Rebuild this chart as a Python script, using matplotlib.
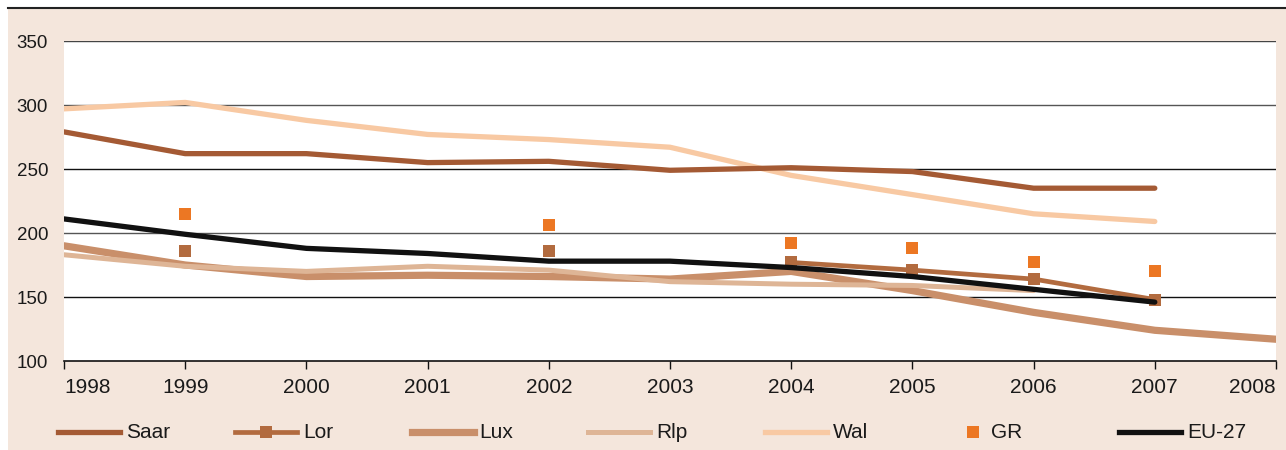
import numpy as np
import matplotlib
matplotlib.use("Agg")
from matplotlib import pyplot as plt
from matplotlib.lines import Line2D
from matplotlib.patches import Rectangle

plt.rcParams['font.family'] = ['Liberation Sans', 'DejaVu Sans']

years = [1998, 1999, 2000, 2001, 2002, 2003, 2004, 2005, 2006, 2007, 2008]
nan = np.nan

saar = [279, 262, 262, 255, 256, 249, 251, 248, 235, 235, nan]
lor = [nan, 186, nan, nan, 186, nan, 177, 171, 164, 148, nan]
lux = [190, 175, 166, 167, 166, 164, 170, 155, 138, 124, 117]
rlp = [183, 174, 170, 174, 171, 162, 160, 159, 155, nan, nan]
wal = [297, 302, 288, 277, 273, 267, 245, 230, 215, 209, nan]
gr = [nan, 215, nan, nan, 206, nan, 192, 188, 177, 170, nan]
eu27 = [211, 199, 188, 184, 178, 178, 173, 166, 156, 146, nan]

c_saar = '#a45a34'
c_lor = '#b26b3f'
c_lux = '#c98f6a'
c_rlp = '#deb596'
c_wal = '#f8c9a3'
c_gr = '#ec7723'
c_eu = '#111111'
beige = '#f4e6dc'
txt = '#1a1a1a'
fs_y = 13.5
fs_x = 15
fs_leg = 15

W, H = 1286, 450
fig = plt.figure(figsize=(W / 100, H / 100), dpi=100)
fig.patch.set_facecolor('white')

# beige panel and top rule
fig.add_artist(Rectangle((8 / W, 0), 1 - 8 / W, (H - 9) / H,
                         transform=fig.transFigure, facecolor=beige,
                         edgecolor='none', zorder=0))
fig.add_artist(Line2D([8 / W, 1], [(H - 8) / H, (H - 8) / H],
                      transform=fig.transFigure, color='#222222', lw=1.5))

ax = fig.add_axes([64 / W, (H - 361) / H, (1276 - 64) / W, (361 - 41) / H])
ax.set_facecolor('white')
ax.set_xlim(1998, 2008)
ax.set_ylim(100, 350)

for v, c in zip([150, 200, 250, 300, 350],
                ['#111111', '#555555', '#111111', '#555555', '#444444']):
    ax.axhline(v, color=c, lw=1, zorder=1)

kw = dict(solid_capstyle='round', solid_joinstyle='round')
ax.plot(years, wal, color=c_wal, lw=3.8, zorder=2, **kw)
ax.plot(years, saar, color=c_saar, lw=3.8, zorder=3, **kw)
ax.plot(years, lux, color=c_lux, lw=5.2, zorder=3, **kw)
ax.plot(years, rlp, color=c_rlp, lw=3.6, zorder=4, **kw)
ax.plot(years, lor, color=c_lor, lw=3.4, marker='s', markersize=8.5,
        markeredgewidth=0, zorder=5, **kw)
ax.plot(years, eu27, color=c_eu, lw=3.8, zorder=6, **kw)
ax.plot(years, gr, color=c_gr, lw=0, marker='s', markersize=8.5,
        markeredgewidth=0, zorder=7)

for s in ['top', 'right', 'left']:
    ax.spines[s].set_visible(False)
ax.spines['bottom'].set_color('#111111')
ax.spines['bottom'].set_linewidth(1.2)

ax.set_yticks([100, 150, 200, 250, 300, 350])
ax.tick_params(axis='y', length=0, pad=11.5, labelsize=fs_y, labelcolor=txt)
ax.set_xticks(years)
ax.set_xticklabels([str(y) for y in years])
ax.tick_params(axis='x', length=6, width=1, direction='out', pad=6,
               labelsize=fs_x, labelcolor=txt, color='#111111')
labels = ax.get_xticklabels()
labels[0].set_horizontalalignment('left')
labels[-1].set_horizontalalignment('right')

# legend row
names = ['Saar', 'Lor', 'Lux', 'Rlp', 'Wal', 'GR', 'EU-27']
styles = [
    dict(color=c_saar, lw=3.8),
    dict(color=c_lor, lw=3.4, marker='s', markersize=8.5, markeredgewidth=0),
    dict(color=c_lux, lw=5.2),
    dict(color=c_rlp, lw=3.6),
    dict(color=c_wal, lw=3.8),
    dict(color=c_gr, lw=0, marker='s', markersize=8.5, markeredgewidth=0),
    dict(color=c_eu, lw=3.8),
]
y_leg = (H - 432) / H
for i, (name, st) in enumerate(zip(names, styles)):
    x0 = 58 + i * 176.8
    if name == 'GR':
        fig.add_artist(Line2D([(x0 + 31) / W], [y_leg], transform=fig.transFigure, **st))
        fig.text((x0 + 49) / W, y_leg, name, fontsize=fs_leg, va='center',
                 ha='left', color=txt)
    else:
        fig.add_artist(Line2D([x0 / W, (x0 + 62) / W], [y_leg, y_leg],
                              transform=fig.transFigure, markevery=[],
                              **st))
        if 'marker' in st:
            fig.add_artist(Line2D([(x0 + 31) / W], [y_leg],
                                  transform=fig.transFigure, **st))
        fig.text((x0 + 68) / W, y_leg, name, fontsize=fs_leg, va='center',
                 ha='left', color=txt)

fig.savefig('out.png', dpi=100, facecolor=fig.get_facecolor())
